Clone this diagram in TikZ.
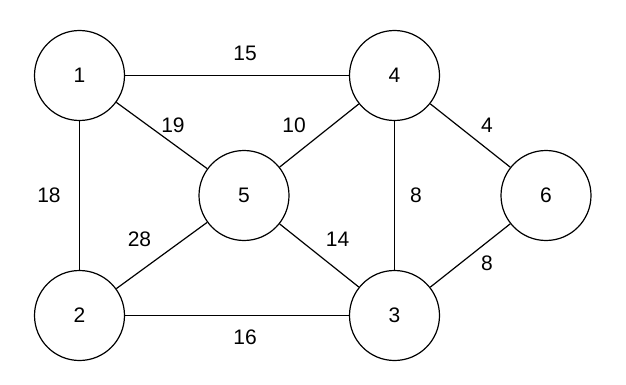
\documentclass[tikz,border=0pt]{standalone}
\usepackage{fontspec}
\setmainfont{Liberation Sans}
\usepackage{tikz}
\tikzset{every node/.append style={font=\fontsize{21}{25}\selectfont}}
\tikzset{vertex/.style={draw, circle, minimum size=90pt, inner sep=0pt}}

\begin{document}
\begin{tikzpicture}[x=1pt, y=-1pt, line width=1.2pt]
    \useasboundingbox (0,0) rectangle (626,385);
    % vertices
    \node[vertex] (v1) at (79.5,75.5) {1};
    \node[vertex] (v4) at (394.5,75.5) {4};
    \node[vertex] (v5) at (244,195.5) {5};
    \node[vertex] (v6) at (546,195.5) {6};
    \node[vertex] (v2) at (79.5,315.5) {2};
    \node[vertex] (v3) at (394.5,315.5) {3};
    % edges
    \draw (v1) -- (v4);
    \draw (v1) -- (v5);
    \draw (v1) -- (v2);
    \draw (v4) -- (v5);
    \draw (v4) -- (v3);
    \draw (v4) -- (v6);
    \draw (v5) -- (v2);
    \draw (v5) -- (v3);
    \draw (v6) -- (v3);
    \draw (v2) -- (v3);
    % weights
    \node (w14) at (245,53) {15};
    \node (w15) at (173,125) {19};
    \node (w45) at (294,125) {10};
    \node (w46) at (487,125) {4};
    \node (w12) at (49,195) {18};
    \node (w43) at (416,195.5) {8};
    \node (w25) at (139.5,239.5) {28};
    \node (w53) at (337.5,239.5) {14};
    \node (w63) at (487,263.5) {8};
    \node (w23) at (245,337.5) {16};
\end{tikzpicture}
\end{document}
